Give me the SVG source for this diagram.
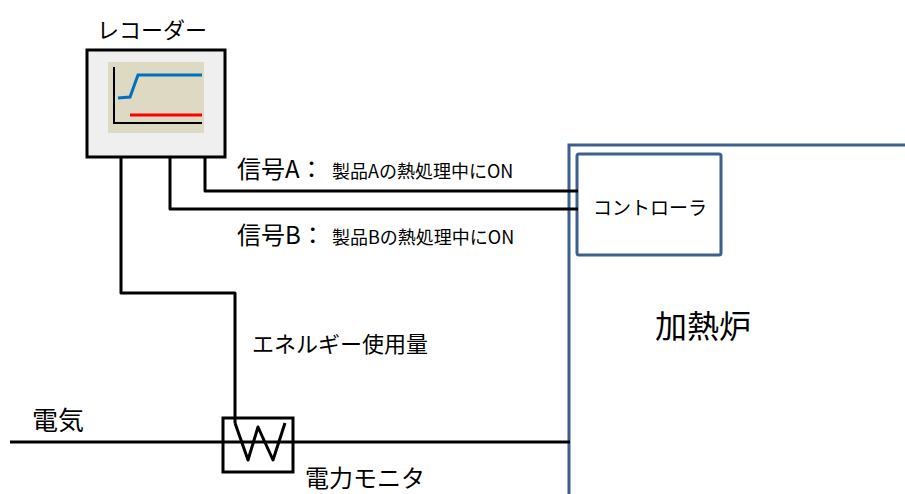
<svg xmlns="http://www.w3.org/2000/svg" width="905" height="494" viewBox="0 0 905 494">
  <style>
    text { font-family: "Noto Sans CJK JP", "Noto Sans", sans-serif; fill: #000; }
    .wire { fill: none; stroke: #000; stroke-width: 3; stroke-linejoin: round; }
    .blue { fill: #fff; stroke: #3c6090; stroke-width: 3; }
    .lbl { font-size: 22px; }
    .sig { font-size: 24px; }
    .small { font-size: 18px; }
  </style>
  <rect width="905" height="494" fill="#fff"/>

  <!-- heating furnace -->
  <g id="furnace">
    <rect class="blue" x="569" y="145" width="345" height="360"/>
    <text x="655" y="338" font-size="32">加熱炉</text>
  </g>

  <!-- controller inside furnace -->
  <g id="controller">
    <rect class="blue" x="577" y="154" width="144" height="101" rx="2"/>
    <text x="593" y="215" font-size="19">コントローラ</text>
  </g>

  <!-- connectors -->
  <g id="connectors">
    <polyline class="wire" points="205,157 205,191 578,191"/>
    <polyline class="wire" points="170,157 170,209 578,209"/>
    <polyline class="wire" points="121,157 121,293 235,293 235,423"/>
    <line class="wire" x1="10" y1="442" x2="570" y2="442"/>
  </g>

  <!-- recorder -->
  <g id="recorder">
    <text x="97" y="38" font-size="22">レコーダー</text>
    <rect x="87" y="50" width="138" height="107" fill="#efefef" stroke="#000" stroke-width="3"/>
    <rect x="108" y="62" width="96" height="71" fill="#ddd9c3"/>
    <polyline points="114,67 114,123 202,123" fill="none" stroke="#000" stroke-width="2"/>
    <polyline points="118,98 130,97 138,75 202,75" fill="none" stroke="#0070c0" stroke-width="3"/>
    <line x1="130" y1="115" x2="202" y2="115" stroke="#ff0000" stroke-width="3"/>
  </g>

  <!-- power monitor -->
  <g id="power-monitor">
    <rect x="223" y="418" width="70" height="54" fill="none" stroke="#000" stroke-width="3"/>
    <polyline class="wire" points="235,423 248,460 258,427 273,460 285,423"/>
    <text x="305" y="487" font-size="24">電力モニタ</text>
  </g>

  <!-- labels -->
  <g id="labels">
    <text x="32" y="430" font-size="26">電気</text>
    <text x="252" y="352" class="lbl">エネルギー使用量</text>
    <text y="178"><tspan x="237" class="sig">信号A：</tspan><tspan x="332" class="small">製品Aの熱処理中にON</tspan></text>
    <text y="244"><tspan x="237" class="sig">信号B：</tspan><tspan x="332" class="small">製品Bの熱処理中にON</tspan></text>
  </g>
</svg>
